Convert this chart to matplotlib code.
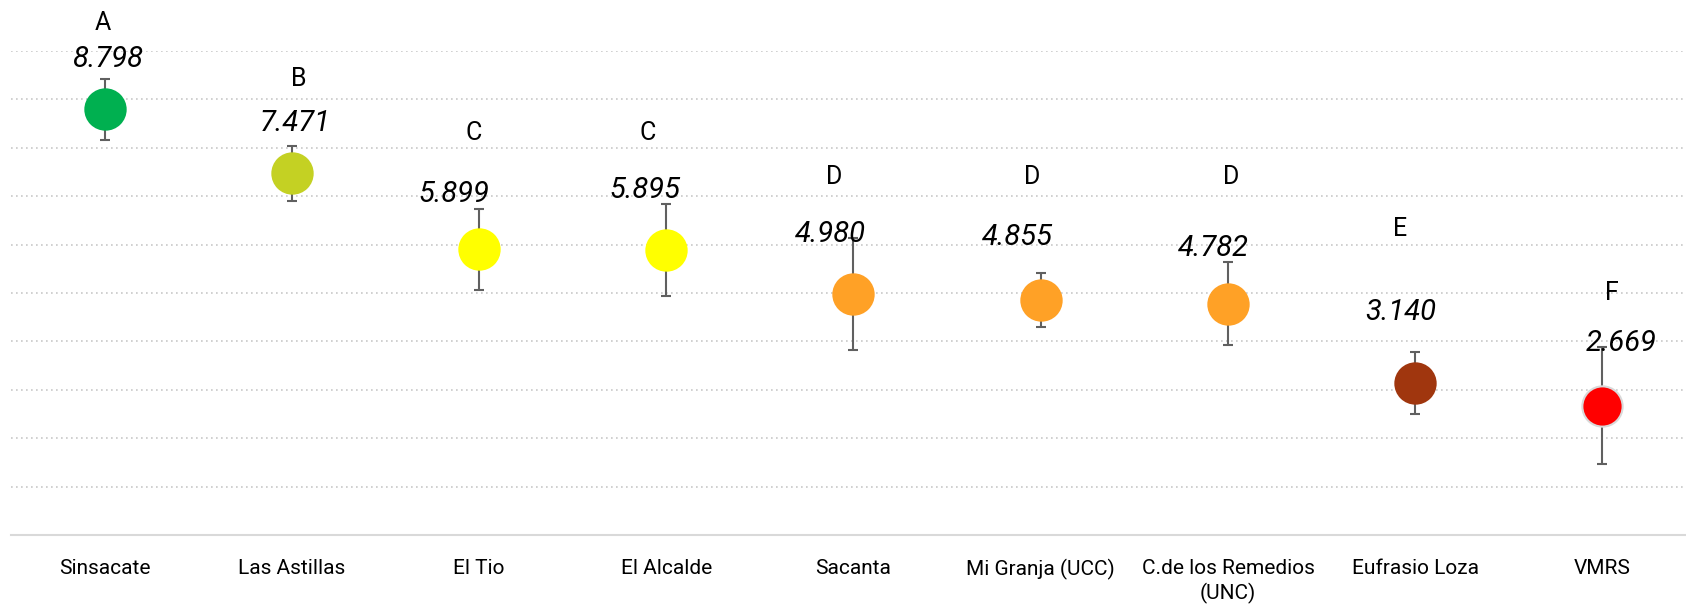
import matplotlib.pyplot as plt
import numpy as np

# data
sites = ["Sinsacate", "Las Astillas", "El Tio", "El Alcalde", "Sacanta",
         "Mi Granja (UCC)", "C.de los Remedios\n(UNC)", "Eufrasio Loza", "VMRS"]
means = [8.798, 7.471, 5.899, 5.895, 4.980, 4.855, 4.782, 3.140, 2.669]
errors = [0.63, 0.56, 0.83, 0.95, 1.16, 0.56, 0.85, 0.64, 1.21]
groups = ["A", "B", "C", "C", "D", "D", "D", "E", "F"]
dot_colors = ["#00b050", "#c4d123", "#ffff00", "#ffff00", "#ffa126",
              "#ffa126", "#ffa126", "#a0360e", "#ff0000"]

# label placement (data units), set by hand like the original
value_label_y = [9.83, 8.51, 7.05, 7.13, 6.22, 6.15, 5.94, 4.60, 3.97]
value_label_dx = [0.016, 0.016, -0.137, -0.116, -0.123, -0.123, -0.078, -0.075, 0.101]
group_label_y = [10.57, 9.42, 8.30, 8.30, 7.39, 7.39, 7.39, 6.32, 5.01]
group_label_dx = [-0.011, 0.036, -0.030, -0.098, -0.103, -0.044, 0.016, -0.080, 0.053]

plt.rcParams["font.family"] = ["Roboto", "DejaVu Sans"]

fig = plt.figure(figsize=(16.86, 6.07), dpi=100)
ax = fig.add_axes([11 / 1686, (607 - 535) / 607, 1685 / 1686, 484 / 607])

x = np.arange(len(sites))
ax.errorbar(x, means, yerr=errors, fmt="none", ecolor="#606060",
            elinewidth=1.5, capsize=3.8, capthick=1.5, zorder=2)
for i in range(len(sites)):
    edge = "#d9d9d9" if dot_colors[i] == "#ff0000" else dot_colors[i]
    ax.plot(x[i], means[i], "o", ms=29, color=dot_colors[i], mec=edge,
            mew=1.5, zorder=3)
    ax.text(x[i] + value_label_dx[i], value_label_y[i], f"{means[i]:.3f}",
            ha="center", va="center", fontsize=21, style="italic",
            color="black", zorder=4, clip_on=False)
    ax.text(x[i] + group_label_dx[i], group_label_y[i], groups[i],
            ha="center", va="center", fontsize=18, color="black",
            zorder=4, clip_on=False)

ax.set_xlim(-0.5, 8.5)
ax.set_ylim(0, 10)
ax.set_yticks(np.arange(1, 11))
ax.yaxis.grid(True, ls=(0, (1, 2)), lw=1.2, color="#c8c8c8")
ax.set_axisbelow(True)
ax.tick_params(axis="y", left=False, labelleft=False)
ax.set_xticks(x)
ax.set_xticklabels(sites, fontsize=15, linespacing=1.3)
ax.tick_params(axis="x", bottom=False, pad=14)

for s in ["top", "right", "left"]:
    ax.spines[s].set_visible(False)
ax.spines["bottom"].set_color("#d9d9d9")
ax.spines["bottom"].set_linewidth(1.5)

fig.savefig("out.png", dpi=100, facecolor="white")
